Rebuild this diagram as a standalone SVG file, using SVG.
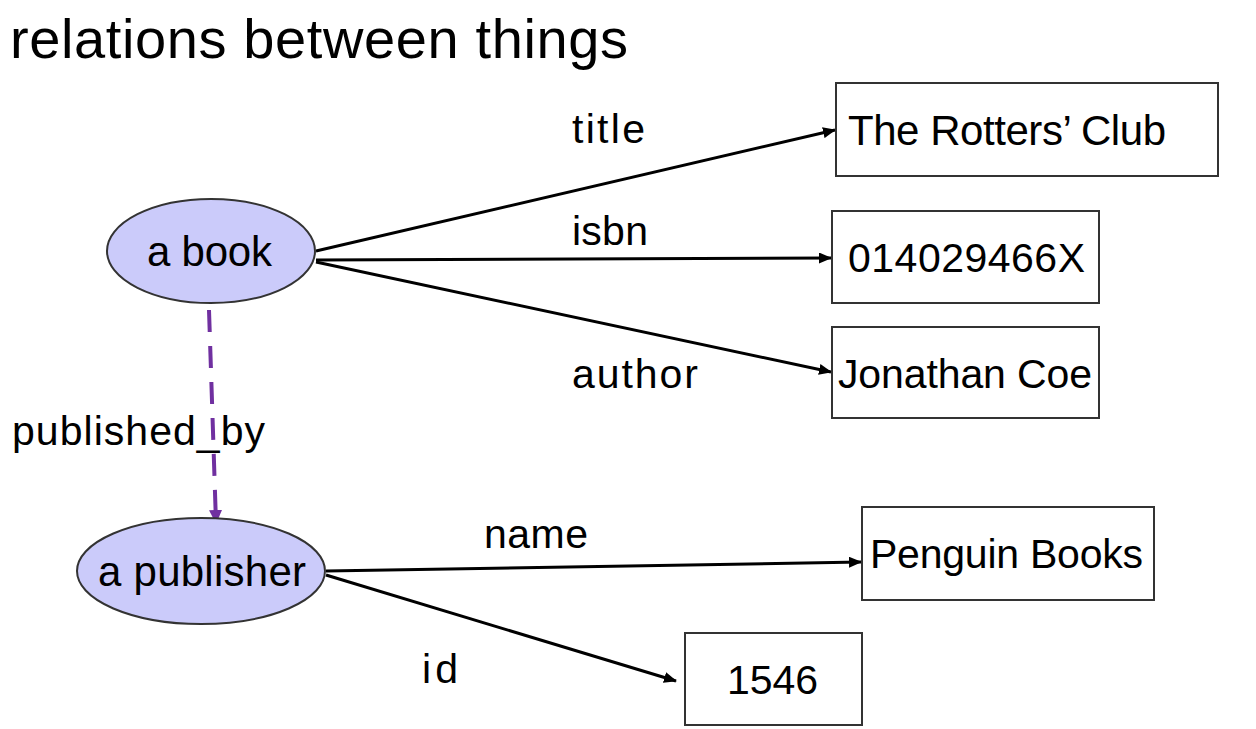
<svg xmlns="http://www.w3.org/2000/svg" width="1256" height="729" viewBox="0 0 1256 729">
<style>
text{font-family:"Liberation Sans",Arial,sans-serif;fill:#000;font-size:41px}
.big{font-size:42px}
.head{font-size:56px}
.node{fill:#cbcbfa;stroke:#333;stroke-width:2}
.box{fill:#fff;stroke:#333;stroke-width:2}
.edge{stroke:#000;stroke-width:3;fill:none}
.dash{stroke:#7030a0;stroke-width:4;fill:none;stroke-dasharray:22 14}
</style>
<defs>
<marker id="ah" markerWidth="13" markerHeight="11" refX="12" refY="5.5" orient="auto" markerUnits="userSpaceOnUse">
<path d="M0,0 L13,5.5 L0,11 Z" fill="#000"/>
</marker>
<marker id="ahp" markerWidth="14" markerHeight="13" refX="13" refY="6.5" orient="auto" markerUnits="userSpaceOnUse">
<path d="M0,0 L14,6.5 L0,13 Z" fill="#7030a0"/>
</marker>
</defs>
<rect width="1256" height="729" fill="#fff"/>
<text class="head" x="10" y="58" textLength="618">relations between things</text>
<g id="connectors">
<line class="edge" x1="316" y1="251" x2="835" y2="130" marker-end="url(#ah)"/>
<line class="edge" x1="316" y1="260" x2="831" y2="258" marker-end="url(#ah)"/>
<line class="edge" x1="316" y1="262" x2="831" y2="372" marker-end="url(#ah)"/>
<line class="edge" x1="326" y1="571" x2="861" y2="562" marker-end="url(#ah)"/>
<line class="edge" x1="326" y1="575" x2="676" y2="681" marker-end="url(#ah)"/>
<line class="dash" x1="209" y1="310" x2="216" y2="523" marker-end="url(#ahp)"/>
<text x="572" y="143" textLength="73">title</text>
<text x="572" y="245" textLength="76">isbn</text>
<text x="572" y="388" textLength="126">author</text>
<text x="12" y="445" textLength="253">published_by</text>
<text x="484" y="548" textLength="104">name</text>
<text x="422" y="683" textLength="36">id</text>
</g>
<g id="book">
<ellipse class="node" cx="211" cy="251" rx="104" ry="52"/>
<text class="big" x="147" y="266" textLength="125">a book</text>
</g>
<g id="publisher">
<ellipse class="node" cx="201" cy="571" rx="124" ry="53"/>
<text class="big" x="98" y="586" textLength="208">a publisher</text>
</g>
<g id="title">
<rect class="box" x="836" y="83" width="382" height="93"/>
<text class="big" x="848" y="145" textLength="318">The Rotters’ Club</text>
</g>
<g id="isbn">
<rect class="box" x="832" y="211" width="267" height="92"/>
<text x="848" y="272" textLength="237">014029466X</text>
</g>
<g id="author">
<rect class="box" x="832" y="327" width="267" height="91"/>
<text x="838" y="388" textLength="254">Jonathan Coe</text>
</g>
<g id="name">
<rect class="box" x="862" y="507" width="292" height="93"/>
<text x="870" y="568" textLength="273">Penguin Books</text>
</g>
<g id="id">
<rect class="box" x="685" y="633" width="177" height="92"/>
<text x="727" y="694" textLength="91">1546</text>
</g>
</svg>
